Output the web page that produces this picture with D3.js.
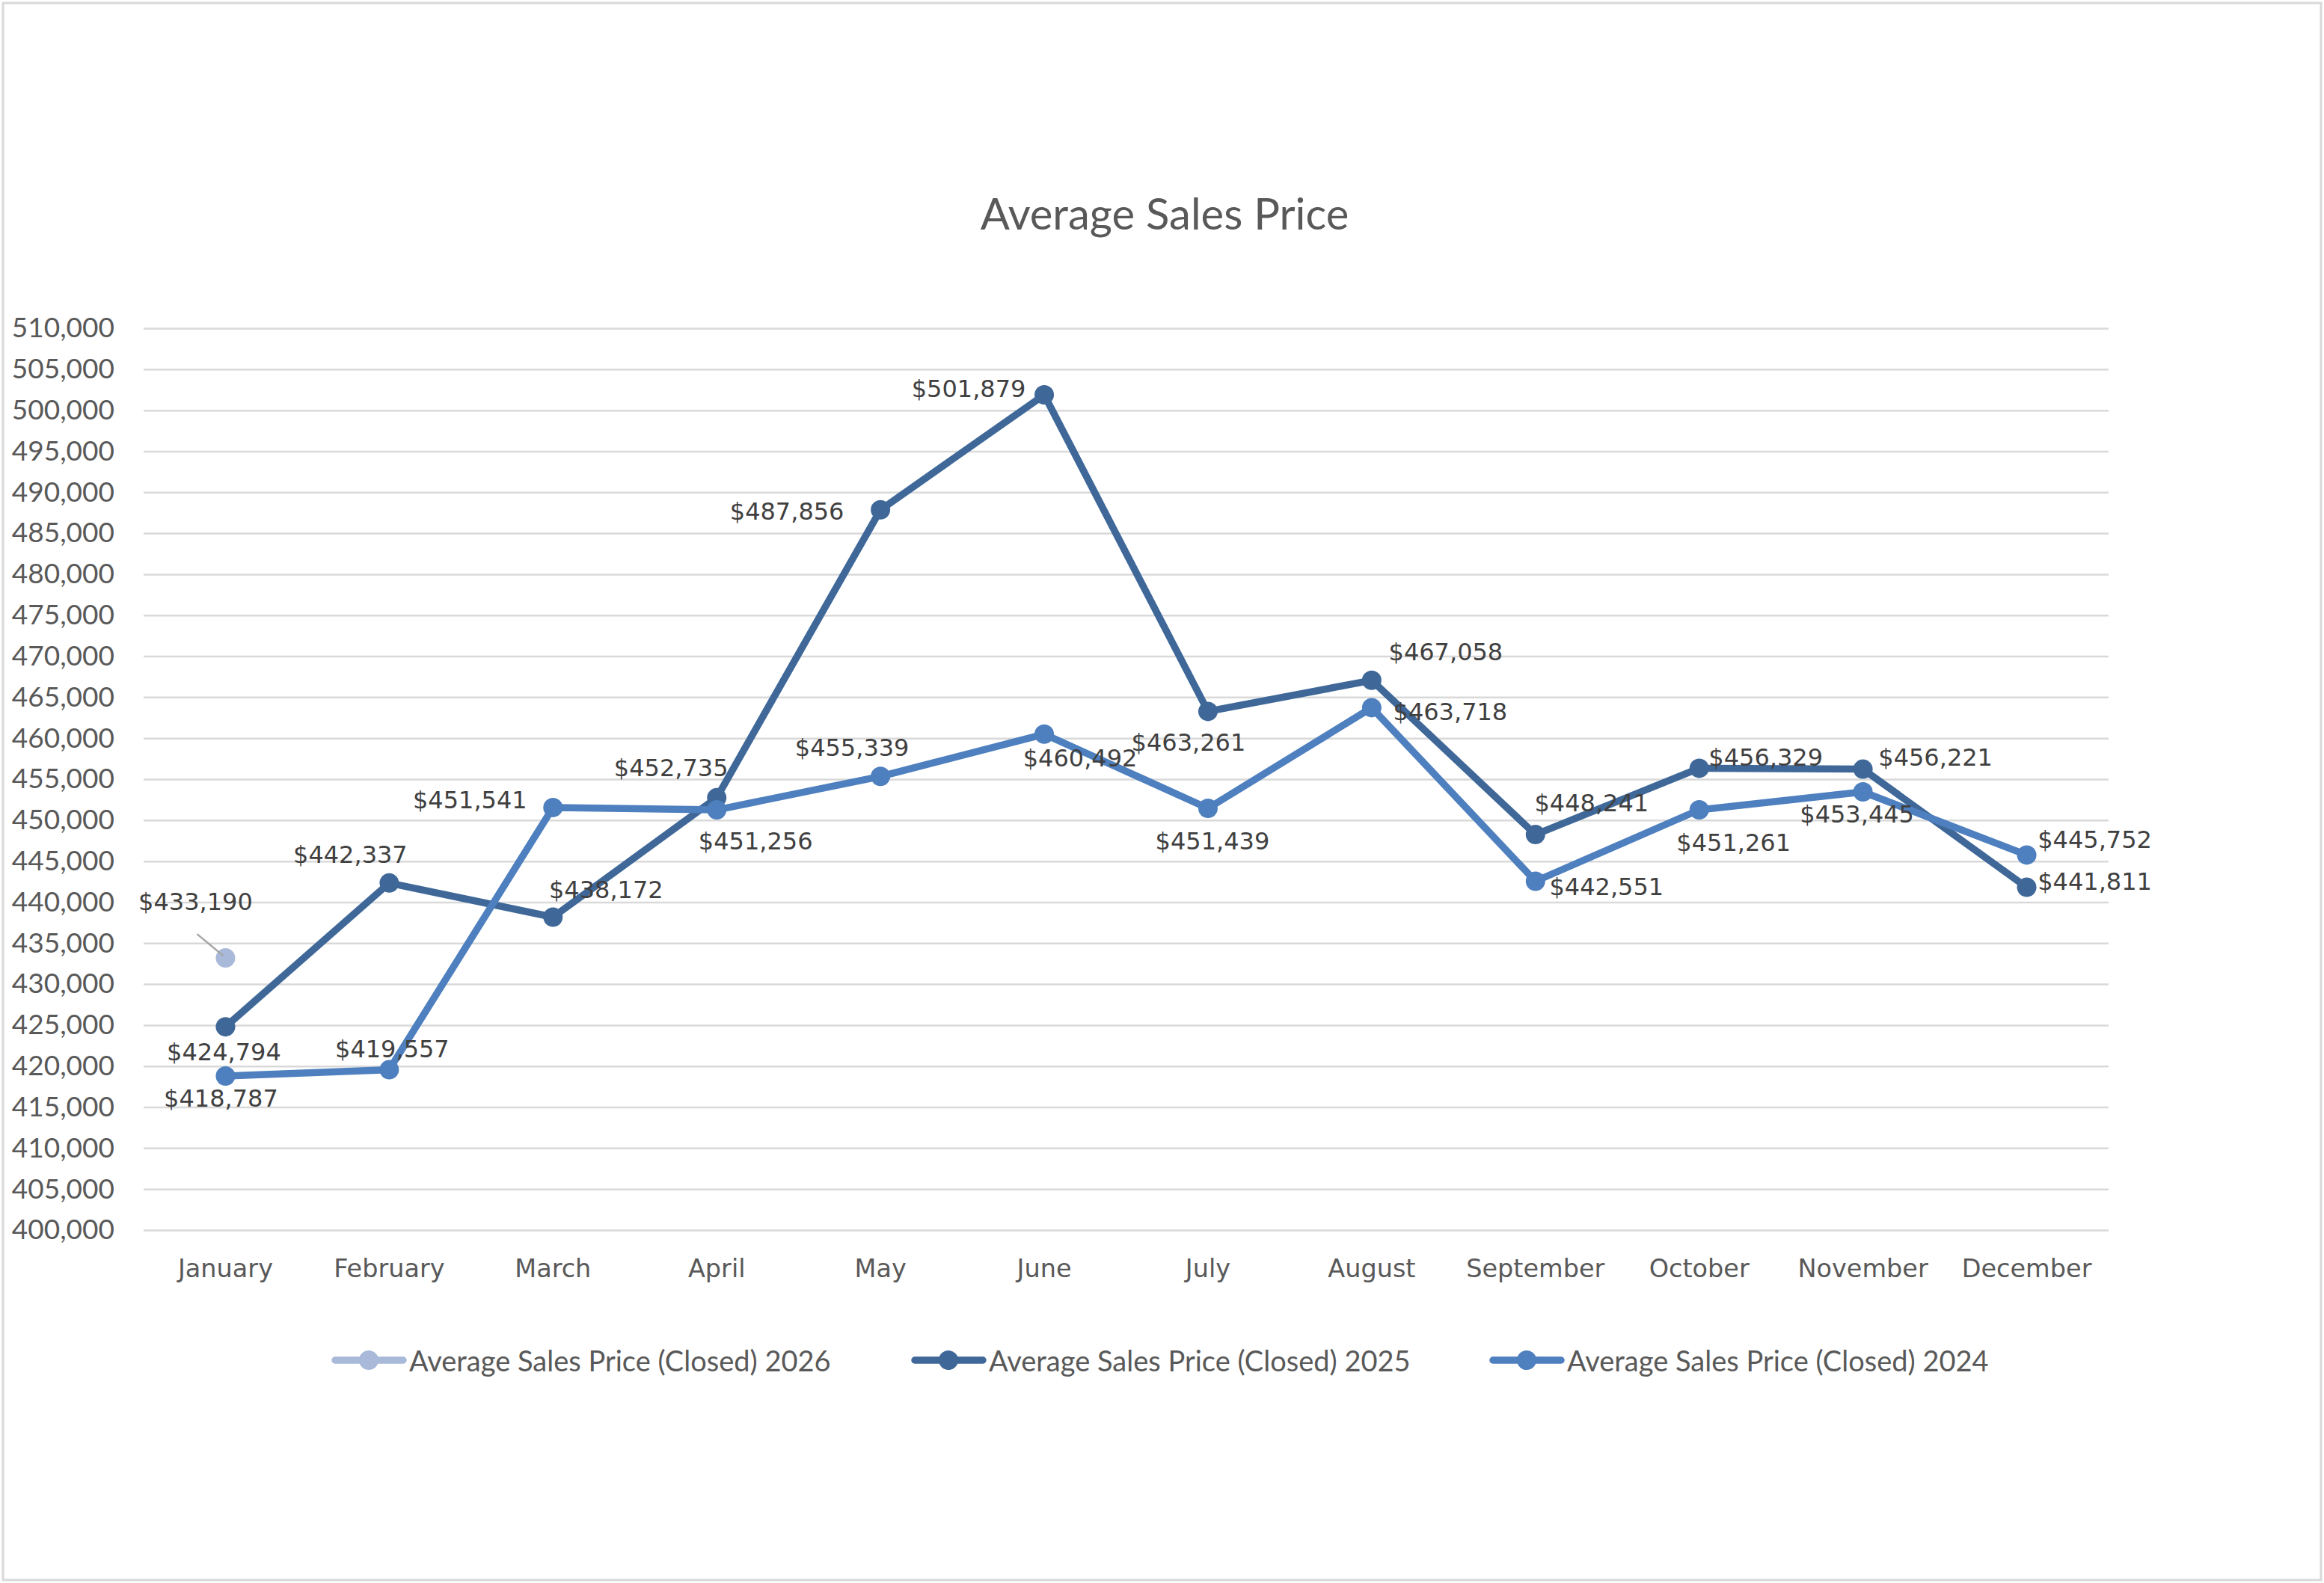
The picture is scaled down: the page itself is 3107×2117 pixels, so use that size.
<!DOCTYPE html>
<html>
<head>
<meta charset="utf-8">
<script src="https://cdn.jsdelivr.net/npm/d3@7/dist/d3.min.js"></script>
<style>
  body { margin: 0; background: #fff; }
</style>
</head>
<body>
<div id="chart"></div>
<script>
// chart data
var months = ["January", "February", "March", "April", "May", "June",
              "July", "August", "September", "October", "November", "December"];
var price2026 = [433190];
var price2025 = [424794, 442337, 438172, 452735, 487856, 501879,
                 463261, 467058, 448241, 456329, 456221, 441811];
var price2024 = [418787, 419557, 451541, 451256, 455339, 460492,
                 451439, 463718, 442551, 451261, 453445, 445752];
var yTicks = [400000, 405000, 410000, 415000, 420000, 425000, 430000, 435000,
              440000, 445000, 450000, 455000, 460000, 465000, 470000, 475000,
              480000, 485000, 490000, 495000, 500000, 505000, 510000];
var seriesNames = ["Average Sales Price (Closed) 2026",
                   "Average Sales Price (Closed) 2025",
                   "Average Sales Price (Closed) 2024"];

var width = 3107, height = 2117;
var plot = { left: 192, right: 2819, top: 439, bottom: 1645 };

var svg = d3.select("#chart").append("svg")
  .attr("width", width)
  .attr("height", height);

svg.append("rect")
  .attr("x", 4).attr("y", 4)
  .attr("width", width - 8).attr("height", height - 8)
  .attr("fill", "#fff")
  .attr("stroke", "#d9d9d9")
  .attr("stroke-width", 3);

var x = d3.scaleBand().domain(months).range([plot.left, plot.right]);
var y = d3.scaleLinear().domain([400000, 510000]).range([plot.bottom, plot.top]);
var cx = function (m) { return x(m) + x.bandwidth() / 2; };

// gridlines + y labels
var yAxis = d3.axisLeft(y)
  .tickValues(yTicks)
  .tickSize(-(plot.right - plot.left))
  .tickPadding(39)
  .tickFormat(d3.format(","));

var yg = svg.append("g")
  .attr("transform", "translate(" + plot.left + ",0)")
  .call(yAxis);
yg.select(".domain").remove();
yg.selectAll(".tick line").attr("stroke", "#d9d9d9").attr("stroke-width", 2.5);
yg.selectAll(".tick text")
  .attr("fill", "#595959")
  .style("font-family", "Lato, 'Open Sans', sans-serif")
  .style("font-size", "37px");

// month labels
var xAxis = d3.axisBottom(x).tickSize(0).tickPadding(0);
var xg = svg.append("g")
  .attr("transform", "translate(0," + plot.bottom + ")")
  .call(xAxis);
xg.select(".domain").remove();
xg.selectAll(".tick text")
  .attr("y", 63)
  .attr("dy", 0)
  .attr("fill", "#595959")
  .style("font-family", "'DejaVu Sans', sans-serif")
  .style("font-size", "33.5px");

// title
svg.append("text")
  .attr("x", 1557).attr("y", 307)
  .attr("text-anchor", "middle")
  .attr("fill", "#595959")
  .style("font-family", "Lato, 'Open Sans', sans-serif")
  .style("font-size", "58px")
  .text("Average Sales Price");

// label offsets from each point (px)
var offs2025 = [[-2, 34], [-52, -38], [71, -36], [-61, -40], [-125, 2], [-101, -8],
                [-26, 42], [99, -38], [75, -42], [89, -14], [97, -16], [91, -8]];
var offs2024 = [[-6, 30], [4, -28], [-111, -10], [52, 42], [-38, -38], [48, 32],
                [6, 44], [105, 6], [95, 8], [46, 44], [-8, 30], [91, -20]];
var offs2026 = [[-40, -75]];

var series = [
  { name: seriesNames[0], values: price2026, color: "#a9b9d9", offs: offs2026 },
  { name: seriesNames[1], values: price2025, color: "#3f6899", offs: offs2025 },
  { name: seriesNames[2], values: price2024, color: "#4e7fbe", offs: offs2024 }
];

var money = function (v) { return "$" + d3.format(",")(v); };

var line = d3.line()
  .x(function (d, i) { return cx(months[i]); })
  .y(function (d) { return y(d); });

series.forEach(function (s) {
  var g = svg.append("g").attr("class", "series");
  g.append("path")
    .datum(s.values)
    .attr("d", line)
    .attr("fill", "none")
    .attr("stroke", s.color)
    .attr("stroke-width", 9.5)
    .attr("stroke-linejoin", "round")
    .attr("stroke-linecap", "round");
  g.selectAll("circle")
    .data(s.values)
  .enter().append("circle")
    .attr("cx", function (d, i) { return cx(months[i]); })
    .attr("cy", function (d) { return y(d); })
    .attr("r", 13)
    .attr("fill", s.color);
});

// leader line for 2026 label
svg.append("line")
  .attr("x1", cx(months[0]) - 38).attr("y1", y(price2026[0]) - 32)
  .attr("x2", cx(months[0]) - 3).attr("y2", y(price2026[0]) - 3)
  .attr("stroke", "#a6a6a6")
  .attr("stroke-width", 2.5);

// data labels
series.forEach(function (s) {
  svg.append("g").selectAll("text")
    .data(s.values)
  .enter().append("text")
    .attr("x", function (d, i) { return cx(months[i]) + s.offs[i][0]; })
    .attr("y", function (d, i) { return y(d) + s.offs[i][1]; })
    .attr("text-anchor", "middle")
    .attr("dominant-baseline", "central")
    .attr("fill", "#404040")
    .style("font-family", "'DejaVu Sans', sans-serif")
    .style("font-size", "32px")
    .text(money);
});

// legend
var legendItems = [
  { x: 448, s: series[0] },
  { x: 1223, s: series[1] },
  { x: 1996, s: series[2] }
];
var legendY = 1819;
var lg = svg.append("g").selectAll("g")
  .data(legendItems)
.enter().append("g")
  .attr("transform", function (d) { return "translate(" + d.x + "," + legendY + ")"; });
lg.append("line")
  .attr("x1", 0).attr("x2", 91)
  .attr("stroke", function (d) { return d.s.color; })
  .attr("stroke-width", 9.5)
  .attr("stroke-linecap", "round");
lg.append("circle")
  .attr("cx", 45).attr("r", 13)
  .attr("fill", function (d) { return d.s.color; });
lg.append("text")
  .attr("x", 99)
  .attr("dominant-baseline", "central")
  .attr("fill", "#595959")
  .style("font-family", "Lato, 'Open Sans', sans-serif")
  .style("font-size", "38px")
  .text(function (d) { return d.s.name; });
</script>
</body>
</html>
